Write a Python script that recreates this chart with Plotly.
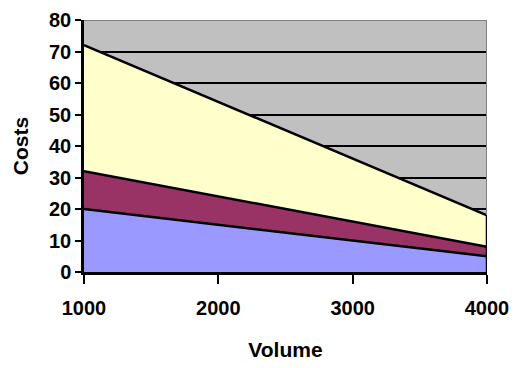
import plotly.graph_objects as go

# Cost components by production volume (stacked)
volume = [1000, 2000, 3000, 4000]
cost_a = [20, 15, 10, 5]      # bottom band (blue)
cost_b = [12, 9, 6, 3]        # middle band (maroon)
cost_c = [40, 30, 20, 10]     # top band (pale yellow)

y_ticks = [0, 10, 20, 30, 40, 50, 60, 70, 80]
x_ticks = [1000, 2000, 3000, 4000]

colors = ["#9999FF", "#993366", "#FFFFCC"]
FONT = "Liberation Sans, Arial, sans-serif"
LW = 2.5

fig = go.Figure()
for vals, col in zip([cost_a, cost_b, cost_c], colors):
    fig.add_trace(go.Scatter(
        x=volume, y=vals, mode="lines", stackgroup="costs",
        fillcolor=col, line=dict(color="black", width=LW),
        hoverinfo="skip", showlegend=False,
    ))

total = [a + b + c for a, b, c in zip(cost_a, cost_b, cost_c)]

shapes = [
    # plot-area frame on top and right
    dict(type="line", xref="x", yref="y", x0=volume[0], x1=volume[-1], y0=y_ticks[-1], y1=y_ticks[-1],
         line=dict(color="#808080", width=2), layer="above"),
    dict(type="line", xref="x", yref="y", x0=volume[-1], x1=volume[-1], y0=total[-1], y1=y_ticks[-1],
         line=dict(color="#808080", width=2), layer="above"),
    # closing edge of the stacked areas
    dict(type="line", xref="x", yref="y", x0=volume[-1], x1=volume[-1], y0=0, y1=total[-1],
         line=dict(color="black", width=LW), layer="above"),
]

fig.update_layout(
    width=514, height=368,
    margin=dict(l=84, r=27, t=20, b=96),
    paper_bgcolor="white", plot_bgcolor="#C0C0C0",
    font=dict(family=FONT, size=20, color="black"),
    shapes=shapes,
    xaxis=dict(
        range=[volume[0], volume[-1]], tickvals=x_ticks,
        ticktext=[f"<b>{v}</b>" for v in x_ticks],
        showgrid=False, zeroline=False, automargin=False,
        showline=True, linecolor="black", linewidth=LW,
        ticks="outside", ticklen=9, tickwidth=2, tickcolor="black",
        ticklabelstandoff=7,
        tickfont=dict(family=FONT, size=20, color="black"),
        title=dict(text="<b>Volume</b>", font=dict(family=FONT, size=21), standoff=25),
    ),
    yaxis=dict(
        range=[0, 80], tickvals=y_ticks,
        ticktext=[f"<b>{v}</b>" for v in y_ticks],
        showgrid=True, gridcolor="black", gridwidth=2, zeroline=False, automargin=False,
        showline=True, linecolor="black", linewidth=LW,
        ticks="outside", ticklen=6, tickwidth=2, tickcolor="black",
        tickfont=dict(family=FONT, size=20, color="black"),
        title=dict(text="<b>Costs</b>", font=dict(family=FONT, size=21), standoff=15),
    ),
)

fig.write_html("out.html")
